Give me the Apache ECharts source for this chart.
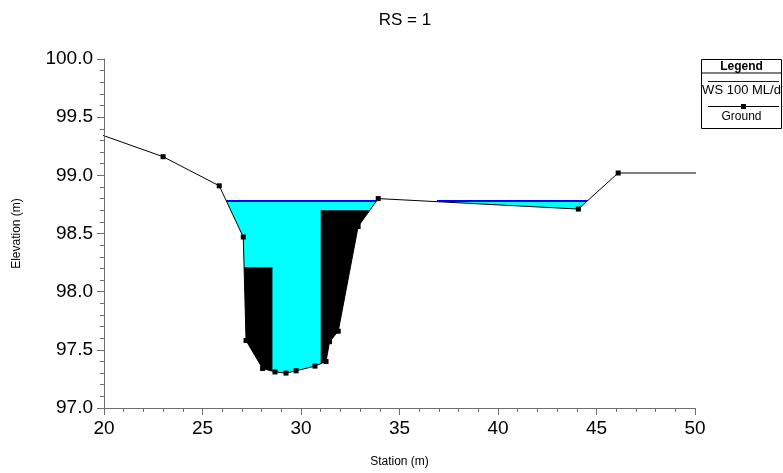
<!DOCTYPE html>
<html><head><meta charset="utf-8">
<script src="https://cdn.jsdelivr.net/npm/echarts@6/dist/echarts.min.js"></script>
<style>html,body{margin:0;padding:0;background:#fff}#c{width:783px;height:473px}</style>
</head><body><div id="c"></div>
<script>
// ---- data ----
const chartTitle = 'RS = 1';
const xAxisName = 'Station (m)';
const yAxisName = 'Elevation (m)';
const groundStation = [18.0, 23.0, 25.85, 27.07, 27.21, 28.05, 28.68, 29.24, 29.75, 30.71, 31.27, 31.45, 31.89, 32.90, 33.92, 44.08, 46.10, 55.0];
const groundElev    = [99.46, 99.16, 98.91, 98.47, 97.58, 97.34, 97.31, 97.30, 97.32, 97.36, 97.40, 97.57, 97.66, 98.56, 98.80, 98.71, 99.02, 99.02];
const wsElev = 98.78;
const wsMainStations = [26.1, 34.0];
const wsRightStations = [36.9, 44.7];
const leftBlockStations = [27.0, 28.55];
const leftBlockElev = 98.21;
const rightBlockStations = [31.0, 34.0];
const rightBlockElev = 98.70;
const legendNames = ['WS 100 ML/d', 'Ground'];
const xRange = [20, 50, 5];
const yRange = [97, 100, 0.5];

// ---- build ----
const ground = groundStation.map((s, i) => [s, groundElev[i]]);
const flat = (st, e) => st.map(s => [s, e]);
const FONT = '"Liberation Sans", Arial, sans-serif';

const chart = echarts.init(document.getElementById('c'), null, {renderer: 'canvas'});
const axisGray = '#6e6e6e';
chart.setOption({
  animation: false,
  backgroundColor: '#fff',
  title: {
    text: chartTitle, left: 400, top: 7, textAlign: 'center',
    textStyle: {fontFamily: FONT, fontSize: 17, fontWeight: 'normal', color: '#000'}
  },
  grid: {left: 104, right: 88, top: 59, bottom: 65},
  xAxis: {
    type: 'value', min: xRange[0], max: xRange[1], interval: xRange[2], z: 10,
    name: xAxisName, nameLocation: 'middle', nameGap: 48,
    nameTextStyle: {fontFamily: FONT, fontSize: 12, color: '#000'},
    axisLine: {show: true, lineStyle: {color: axisGray, width: 1}},
    axisTick: {show: true, length: 7, lineStyle: {color: axisGray}},
    minorTick: {show: true, splitNumber: 5, length: 4, lineStyle: {color: axisGray}},
    splitLine: {show: false},
    axisLabel: {fontFamily: FONT, fontSize: 19, color: '#000', margin: 11}
  },
  yAxis: {
    type: 'value', min: yRange[0], max: yRange[1], interval: yRange[2], z: 10,
    name: yAxisName, nameLocation: 'middle', nameGap: 81, nameRotate: 90,
    nameTextStyle: {fontFamily: FONT, fontSize: 12, color: '#000'},
    axisLine: {show: true, lineStyle: {color: axisGray, width: 1}},
    axisTick: {show: true, length: 7, lineStyle: {color: axisGray}},
    minorTick: {show: true, splitNumber: 5, length: 4, lineStyle: {color: axisGray}},
    splitLine: {show: false},
    axisLabel: {fontFamily: FONT, fontSize: 19, color: '#000', margin: 11,
      formatter: v => v.toFixed(1)}
  },
  series: [
    {type: 'line', name: legendNames[0], data: flat(wsMainStations, wsElev), z: 1, symbol: 'none',
      lineStyle: {color: '#0000ff', width: 2}, areaStyle: {color: '#00ffff', opacity: 1, origin: 'start'}},
    {type: 'line', name: legendNames[0] + ' ', data: flat(wsRightStations, wsElev), z: 1, symbol: 'none',
      lineStyle: {color: '#0000ff', width: 2}, areaStyle: {color: '#00ffff', opacity: 1, origin: 'start'}},
    {type: 'line', name: 'blockL', data: flat(leftBlockStations, leftBlockElev), z: 2, symbol: 'none',
      lineStyle: {width: 0, color: '#000'}, areaStyle: {color: '#000', opacity: 1, origin: 'start'}},
    {type: 'line', name: 'blockR', data: flat(rightBlockStations, rightBlockElev), z: 2, symbol: 'none',
      lineStyle: {width: 0, color: '#000'}, areaStyle: {color: '#000', opacity: 1, origin: 'start'}},
    {type: 'line', name: legendNames[1], data: ground, z: 3, clip: true,
      symbol: 'rect', symbolSize: 5, showAllSymbol: true,
      itemStyle: {color: '#000'},
      lineStyle: {color: '#000', width: 1},
      areaStyle: {color: '#fff', opacity: 1, origin: 'start'}}
  ],
  graphic: [
    {type: 'rect', shape: {x: 701.5, y: 59.5, width: 80, height: 69}, style: {fill: '#fff', stroke: '#000', lineWidth: 1}, z: 20},
    {type: 'line', shape: {x1: 701.5, y1: 73, x2: 781.5, y2: 73}, style: {stroke: '#000', lineWidth: 1}, z: 21},
    {type: 'text', x: 741.5, y: 67, z: 21, style: {text: 'Legend', font: 'bold 12px ' + FONT, align: 'center', verticalAlign: 'middle', fill: '#000'}},
    {type: 'line', shape: {x1: 708, y1: 81.5, x2: 779, y2: 81.5}, style: {stroke: '#0000ff', lineWidth: 1}, z: 21},
    {type: 'text', x: 741.5, y: 90, z: 21, style: {text: legendNames[0], font: '13px ' + FONT, align: 'center', verticalAlign: 'middle', fill: '#000'}},
    {type: 'line', shape: {x1: 708, y1: 106.5, x2: 779, y2: 106.5}, style: {stroke: '#000', lineWidth: 1}, z: 21},
    {type: 'rect', shape: {x: 741, y: 104, width: 5, height: 5}, style: {fill: '#000'}, z: 22},
    {type: 'text', x: 741.5, y: 116.5, z: 21, style: {text: legendNames[1], font: '12px ' + FONT, align: 'center', verticalAlign: 'middle', fill: '#000'}}
  ]
});
</script>
</body></html>
